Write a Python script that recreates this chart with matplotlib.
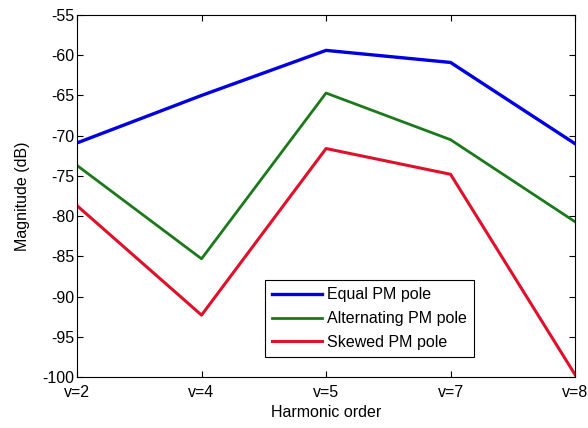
import matplotlib
matplotlib.use("Agg")
import matplotlib.pyplot as plt

# harmonic orders on the x axis
harmonics = ["v=2", "v=4", "v=5", "v=7", "v=8"]

# magnitudes (dB)
equal_pm = [-70.9, -65.0, -59.4, -60.9, -71.0]
alternating_pm = [-73.7, -85.3, -64.7, -70.5, -80.7]
skewed_pm = [-78.7, -92.3, -71.6, -74.8, -99.7]

y_ticks = [-100, -95, -90, -85, -80, -75, -70, -65, -60, -55]

plt.rcParams["font.family"] = ["Liberation Sans", "DejaVu Sans"]
plt.rcParams["axes.unicode_minus"] = False

fs = 11.5
fig = plt.figure(figsize=(5.88, 4.28), dpi=100)
ax = fig.add_axes([0.131, 0.119, 0.847, 0.846])

x = list(range(len(harmonics)))
ax.plot(x, equal_pm, color="#0000e0", lw=2.4, label="Equal PM pole")
ax.plot(x, alternating_pm, color="#1a7a1a", lw=2.0, label="Alternating PM pole")
ax.plot(x, skewed_pm, color="#e0102a", lw=2.2, label="Skewed PM pole")

ax.set_xlim(0, len(harmonics) - 1)
ax.set_ylim(-100, -55)
ax.set_xticks(x)
ax.set_xticklabels(harmonics)
ax.set_yticks(y_ticks)
ax.tick_params(direction="in", top=True, right=True, labelsize=fs, length=4, width=0.8)
ax.tick_params(axis="y", pad=2)
ax.tick_params(axis="x", pad=6)
for s in ax.spines.values():
    s.set_linewidth(0.8)

ax.set_xlabel("Harmonic order", fontsize=fs, labelpad=3)
ax.set_ylabel("Magnitude (dB)", fontsize=fs, labelpad=9)

leg = ax.legend(loc="lower left", bbox_to_anchor=(0.3775, 0.055), borderaxespad=0,
                fontsize=fs, fancybox=False, edgecolor="black", framealpha=1,
                handlelength=3.1, handletextpad=0.3, borderpad=0.45, labelspacing=0.55)
leg.get_frame().set_linewidth(0.8)

fig.savefig("out.png", dpi=100)
